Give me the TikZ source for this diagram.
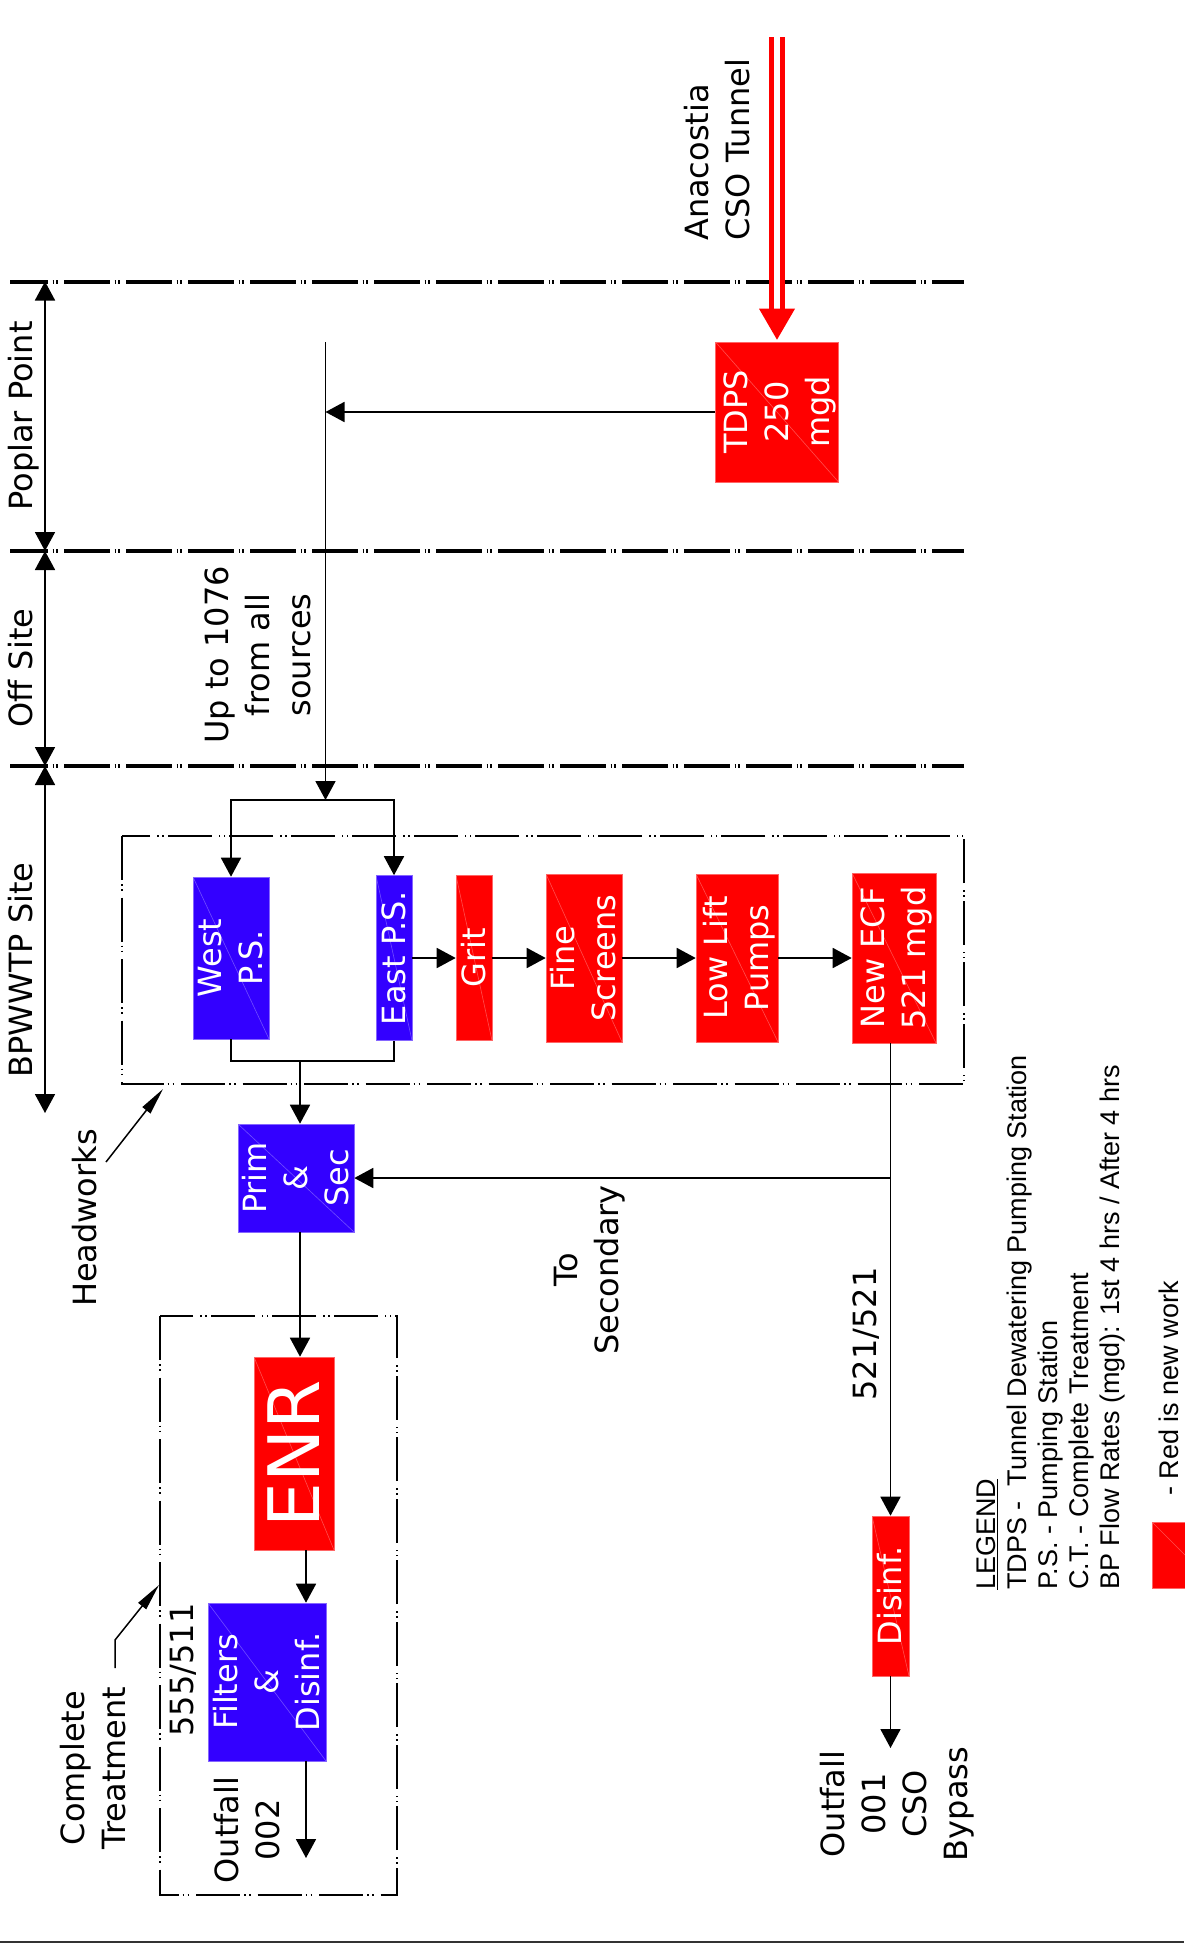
\documentclass[tikz,border=0pt]{standalone}
\usepackage{fontspec}
\usepackage{graphicx}
\setmainfont{DejaVu Sans}
\newfontfamily\legendfont{Liberation Sans}
\usetikzlibrary{arrows.meta}
\definecolor{psblue}{RGB}{51,0,255}
\newcommand{\up}[2][c]{\makebox[0pt]{\hspace{6pt}\rotatebox{90}{\begin{tabular}{@{}#1@{}}#2\end{tabular}}}}
\newcommand{\diagsize}{\fontsize{32}{41}\selectfont}
\newcommand{\enrsize}{\fontsize{71}{80}\selectfont}
\newcommand{\keysize}{\fontsize{27}{31}\selectfont}
\tikzset{x=1pt,y=-1pt,>={Triangle[length=19pt,width=20pt]},
  every node/.style={inner sep=0pt,font=\diagsize},
  flow/.style={line width=1.8pt},
  unit/.style={fill=#1,draw=#1!60!white,line width=0.6pt,text=white,
    path picture={\draw[white,opacity=0.3,line width=0.6pt]
      (path picture bounding box.north west) -- (path picture bounding box.south east);}},
  newbox/.style={unit=red},
  oldbox/.style={unit=psblue},
  zone/.style={line width=2pt,dash pattern=on 44pt off 4pt on 1.5pt off 3.5pt on 1.5pt off 7pt},
  sitebreak/.style={line width=4pt,dash pattern=on 46pt off 4.5pt on 1.5pt off 2pt on 1.5pt off 6.5pt,dash phase=8pt},
  pointer/.style={line width=1.5pt,-{Triangle[length=27pt,width=10pt]}},
  tunnel/.style={red,line width=4.5pt,double=white,double distance=6.6pt}}

\begin{document}
\begin{tikzpicture}
        \useasboundingbox (0,0) rectangle (1184,1944);

        \foreach \y in {281.5,551,766} \draw [sitebreak] (10,\y) -- (964,\y);
        \draw [zone] (121.5,836) rectangle (964,1084);
        \draw [zone] (160,1316) rectangle (397,1895);

        \node [newbox,minimum width=123pt,minimum height=140pt] (tdps)    at (777,412)    {\up{TDPS\\250\\mgd}};
        \node [oldbox,minimum width=76pt,minimum height=162pt]  (west)    at (231,958)    {\up{West\\P.S.}};
        \node [oldbox,minimum width=36pt,minimum height=165pt]  (east)    at (394,958)    {\up{East P.S.}};
        \node [newbox,minimum width=36pt,minimum height=165pt]  (grit)    at (474,958)    {\up{Grit}};
        \node [newbox,minimum width=76pt,minimum height=168pt]  (fine)    at (584,958)    {\up{Fine\\Screens}};
        \node [newbox,minimum width=82pt,minimum height=168pt]  (lift)    at (737,958)    {\up{Low Lift\\Pumps}};
        \node [newbox,minimum width=84pt,minimum height=170pt]  (ecf)     at (894,958)    {\up{New ECF\\521 mgd}};
        \node [oldbox,minimum width=116pt,minimum height=108pt] (prim)    at (296,1178)   {\up{Prim\\\&\\Sec}};
        \node [newbox,minimum width=80pt,minimum height=193pt,font=\enrsize] (enr) at (294,1453.5) {\makebox[0pt]{\rotatebox{90}{ENR}}};
        \node [oldbox,minimum width=118pt,minimum height=158pt] (filters) at (267,1682)   {\up{Filters\\\&\\Disinf.}};
        \node [newbox,minimum width=37pt,minimum height=160pt]  (disinf)  at (890.5,1596) {\up{Disinf.}};

        \node (poplar)    at (21,416)   {\up{Poplar Point}};
        \node (offsite)   at (21,668)   {\up{Off Site}};
        \node (bpsite)    at (21,970)   {\up{BPWWTP Site}};
        \node [anchor=south] (anacostia) at (718,241) {\up[l]{Anacostia\\CSO Tunnel}};
        \node (upto)      at (258,655)  {\up{Up to 1076\\from all\\sources}};
        \node (headworks) at (85,1218)  {\up{Headworks}};
        \node (tosec)     at (587,1270) {\up{To\\Secondary}};
        \node (bpflow)    at (865,1334) {\up{521/521}};
        \node (ctflow)    at (182,1670) {\up{555/511}};
        \node (outfall2)  at (248,1830) {\up{Outfall\\002}};
        \node (outfall1)  at (895,1804) {\up{Outfall\\001\\CSO\\Bypass}};
        \node (complete)  at (94,1768)  {\up{Complete\\Treatment}};

        \node [anchor=south,font=\legendfont\keysize] (legend) at (1048,1590)
          {\up[l]{\underline{LEGEND}\\TDPS - \ Tunnel Dewatering Pumping Station\\P.S. - Pumping Station\\C.T. - Complete Treatment\\BP Flow Rates (mgd): 1st 4 hrs / After 4 hrs}};
        \node [anchor=south,font=\legendfont\keysize] (rednote) at (1169,1496) {\up{- Red is new work}};
        \node [newbox,minimum width=66pt,minimum height=66pt] (key) at (1185,1555) {};

        \coordinate (dimA)   at (45,281.5);
        \coordinate (dimB)   at (45,551);
        \coordinate (dimC)   at (45,766);
        \coordinate (dimD)   at (45,1113);
        \coordinate (tunnel) at (777,37);
        \coordinate (trunk)  at (325.5,342);
        \coordinate (split)  at (325.5,800);
        \coordinate (merge)  at (300,1061);
        \coordinate (of002)  at (306,1858);
        \coordinate (of001)  at (890.5,1748);
        \coordinate (hwtail) at (106,1162);
        \coordinate (hwtip)  at (163,1089);
        \coordinate (cttail) at (115,1668);
        \coordinate (ctbend) at (115,1640);
        \coordinate (cttip)  at (159,1585);

        \draw [flow,<->] (dimA) -- (dimB);
        \draw [flow,<->] (dimB) -- (dimC);
        \draw [flow,<->] (dimC) -- (dimD);

        \draw [tunnel] (tunnel) -- ([yshift=33pt]tdps.north);
        \fill [red] ([xshift=-18pt,yshift=33pt]tdps.north) -- ([xshift=18pt,yshift=33pt]tdps.north) -- ([yshift=2pt]tdps.north) -- cycle;

        \draw [flow,->] (tdps.west) -- (tdps.west -| trunk);
        \draw [flow,->] (trunk) -- (split);
        \draw [flow,<->] (west.north) |- (split) -| (east.north);
        \draw [flow] (west.south) |- (merge) -| (east.south);
        \draw [flow,->] (merge) -- (merge |- prim.north);
        \draw [flow,->] (east.east) -- (grit.west);
        \draw [flow,->] (grit.east) -- (fine.west);
        \draw [flow,->] (fine.east) -- (lift.west);
        \draw [flow,->] (lift.east) -- (ecf.west);
        \draw [flow,->] (disinf.north |- ecf.south) -- (disinf.north);
        \draw [flow,->] (prim.east -| disinf.north) -- (prim.east);
        \draw [flow,->] (disinf.south) -- (of001);
        \draw [flow,->] (prim.south -| merge) -- (enr.north -| merge);
        \draw [flow,->] (enr.south -| of002) -- (filters.north -| of002);
        \draw [flow,->] (filters.south -| of002) -- (of002);

        \draw [pointer] (hwtail) -- (hwtip);
        \draw [pointer] (cttail) -- (ctbend) -- (cttip);

        \draw [line width=2.5pt,black!80] (0,1942) -- (1184,1942);
\end{tikzpicture}
\end{document}
